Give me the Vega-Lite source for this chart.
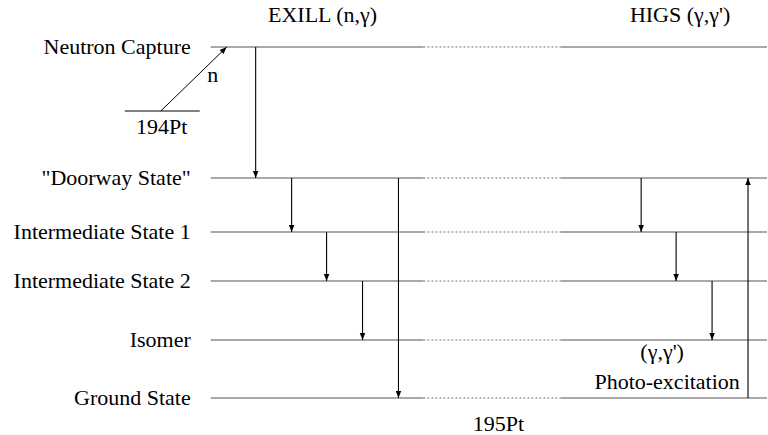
{
  "$schema": "https://vega.github.io/schema/vega-lite/v6.json",
  "width": 768,
  "height": 435,
  "padding": 0,
  "autosize": {"type": "fit", "contains": "padding"},
  "background": "white",
  "config": {"view": {"stroke": null}},
  "datasets": {
    "levels": [
      {"name": "Neutron Capture", "y": 47},
      {"name": "\"Doorway State\"", "y": 178},
      {"name": "Intermediate State 1", "y": 232},
      {"name": "Intermediate State 2", "y": 281},
      {"name": "Isomer", "y": 340},
      {"name": "Ground State", "y": 398}
    ],
    "down": [
      {"x": 256, "y1": 47, "y2": 178},
      {"x": 292, "y1": 178, "y2": 232},
      {"x": 327, "y1": 232, "y2": 281},
      {"x": 363, "y1": 281, "y2": 340},
      {"x": 399, "y1": 178, "y2": 398},
      {"x": 642, "y1": 178, "y2": 232},
      {"x": 677, "y1": 232, "y2": 281},
      {"x": 713, "y1": 281, "y2": 340}
    ],
    "up": [
      {"x": 749, "y1": 398, "y2": 178}
    ],
    "neutron": [
      {"x1": 161, "y1": 111, "x2": 227, "y2": 47}
    ],
    "target": [
      {"x1": 125, "x2": 200, "y": 111}
    ],
    "texts": [
      {"label": "EXILL (n,γ)", "x": 323, "y": 15},
      {"label": "HIGS (γ,γ')", "x": 681, "y": 15},
      {"label": "n", "x": 213, "y": 75},
      {"label": "194Pt", "x": 162, "y": 127},
      {"label": "(γ,γ')", "x": 663, "y": 352},
      {"label": "Photo-excitation", "x": 668, "y": 382},
      {"label": "195Pt", "x": 499, "y": 424}
    ]
  },
  "layer": [
    {
      "data": {"name": "levels"},
      "mark": {"type": "rule", "color": "#555555", "strokeWidth": 1.2},
      "encoding": {
        "y": {"field": "y", "type": "quantitative", "scale": {"domain": [0, 435], "reverse": true, "zero": false, "nice": false}, "axis": null},
        "x": {"datum": 211, "type": "quantitative", "scale": {"domain": [0, 768], "nice": false, "zero": false}, "axis": null},
        "x2": {"datum": 424}
      }
    },
    {
      "data": {"name": "levels"},
      "mark": {"type": "rule", "color": "#777777", "strokeWidth": 1, "strokeDash": [2, 2]},
      "encoding": {
        "y": {"field": "y", "type": "quantitative"},
        "x": {"datum": 424, "type": "quantitative"},
        "x2": {"datum": 562}
      }
    },
    {
      "data": {"name": "levels"},
      "mark": {"type": "rule", "color": "#555555", "strokeWidth": 1.2},
      "encoding": {
        "y": {"field": "y", "type": "quantitative"},
        "x": {"datum": 562, "type": "quantitative"},
        "x2": {"datum": 768}
      }
    },
    {
      "data": {"name": "levels"},
      "mark": {"type": "text", "align": "right", "baseline": "middle", "font": "Liberation Serif", "fontSize": 22, "color": "black"},
      "encoding": {
        "y": {"field": "y", "type": "quantitative"},
        "x": {"datum": 191, "type": "quantitative"},
        "text": {"field": "name"}
      }
    },
    {
      "data": {"name": "target"},
      "mark": {"type": "rule", "color": "black", "strokeWidth": 1},
      "encoding": {
        "y": {"field": "y", "type": "quantitative"},
        "x": {"field": "x1", "type": "quantitative"},
        "x2": {"field": "x2"}
      }
    },
    {
      "data": {"name": "neutron"},
      "mark": {"type": "rule", "color": "black", "strokeWidth": 1},
      "encoding": {
        "x": {"field": "x1", "type": "quantitative"},
        "y": {"field": "y1", "type": "quantitative"},
        "x2": {"field": "x2"},
        "y2": {"field": "y2"}
      }
    },
    {
      "data": {"name": "neutron"},
      "mark": {"type": "point", "shape": "M0,0L-1,2.6L1,2.6Z", "filled": true, "color": "black", "opacity": 1, "size": 30, "angle": 46},
      "encoding": {
        "x": {"field": "x2", "type": "quantitative"},
        "y": {"field": "y2", "type": "quantitative"}
      }
    },
    {
      "data": {"name": "down"},
      "mark": {"type": "rule", "color": "black", "strokeWidth": 1.1},
      "encoding": {
        "x": {"field": "x", "type": "quantitative"},
        "y": {"field": "y1", "type": "quantitative"},
        "y2": {"field": "y2"}
      }
    },
    {
      "data": {"name": "down"},
      "mark": {"type": "point", "shape": "M0,0L-1,-2.6L1,-2.6Z", "filled": true, "color": "black", "opacity": 1, "size": 30},
      "encoding": {
        "x": {"field": "x", "type": "quantitative"},
        "y": {"field": "y2", "type": "quantitative"}
      }
    },
    {
      "data": {"name": "up"},
      "mark": {"type": "rule", "color": "black", "strokeWidth": 1.1},
      "encoding": {
        "x": {"field": "x", "type": "quantitative"},
        "y": {"field": "y1", "type": "quantitative"},
        "y2": {"field": "y2"}
      }
    },
    {
      "data": {"name": "up"},
      "mark": {"type": "point", "shape": "M0,0L-1,2.6L1,2.6Z", "filled": true, "color": "black", "opacity": 1, "size": 30},
      "encoding": {
        "x": {"field": "x", "type": "quantitative"},
        "y": {"field": "y2", "type": "quantitative"}
      }
    },
    {
      "data": {"name": "texts"},
      "mark": {"type": "text", "align": "center", "baseline": "middle", "font": "Liberation Serif", "fontSize": 22, "color": "black"},
      "encoding": {
        "x": {"field": "x", "type": "quantitative"},
        "y": {"field": "y", "type": "quantitative"},
        "text": {"field": "label"}
      }
    }
  ]
}
